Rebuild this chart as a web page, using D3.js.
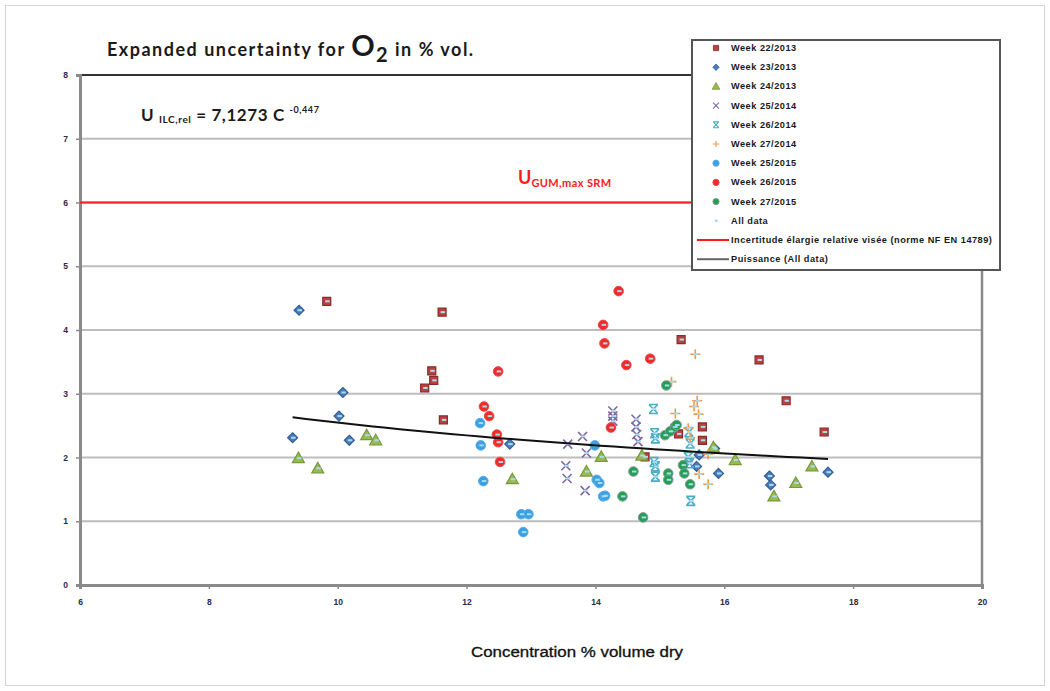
<!DOCTYPE html>
<html><head><meta charset="utf-8">
<script src="https://cdn.jsdelivr.net/npm/d3@7"></script>
<style>body{margin:0;background:#fff} svg{display:block}</style>
</head><body><svg id="c" width="1050" height="691"></svg>
<script>
// Axis ticks
const xTicks = [6, 8, 10, 12, 14, 16, 18, 20];
const yTicks = [0, 1, 2, 3, 4, 5, 6, 7, 8];

// Measurement campaigns: [concentration % vol dry, expanded uncertainty]
const week22_2013 = [[9.83,4.45],[11.62,4.28],[11.46,3.36],[11.49,3.21],[11.35,3.09],[11.64,2.59],[14.77,2.01],[15.33,3.85],[16.54,3.53],[16.96,2.89],[17.55,2.40],[15.66,2.48],[15.66,2.27],[15.29,2.37]];
const week23_2013 = [[9.40,4.31],[10.08,3.02],[10.02,2.65],[9.30,2.31],[10.18,2.27],[12.67,2.21],[15.85,2.14],[15.61,2.04],[15.91,1.75],[15.57,1.86],[16.70,1.71],[16.72,1.57],[17.61,1.77]];
const week24_2013 = [[9.39,1.99],[9.69,1.83],[10.45,2.35],[10.59,2.27],[12.71,1.66],[14.09,2.01],[13.86,1.78],[14.72,2.03],[15.83,2.16],[16.17,1.96],[17.36,1.86],[17.11,1.60],[16.77,1.39]];
const week25_2014 = [[13.80,2.33],[13.57,2.21],[13.86,2.07],[13.54,1.87],[13.56,1.67],[13.84,1.48],[14.27,2.73],[14.27,2.65],[14.27,2.57],[14.63,2.60],[14.63,2.48],[14.64,2.36],[14.66,2.25]];
const week26_2014 = [[14.90,2.76],[14.92,2.38],[14.93,2.30],[14.91,1.93],[14.93,1.86],[14.93,1.70],[15.47,2.22],[15.44,2.01],[15.46,1.91],[15.48,1.32],[15.45,2.40]];
const week27_2014 = [[15.18,3.19],[15.55,3.62],[15.58,2.89],[15.53,2.80],[15.60,2.68],[15.24,2.69],[15.44,2.46],[15.47,2.31],[15.75,2.05],[15.61,1.74],[15.75,1.58]];
const week25_2015 = [[12.21,2.54],[12.22,2.19],[12.26,1.63],[13.99,2.19],[14.02,1.65],[14.06,1.60],[14.12,1.39],[14.15,1.40],[12.85,1.11],[12.96,1.11],[12.88,0.83]];
const week26_2015 = [[12.49,3.35],[12.27,2.80],[12.35,2.65],[12.47,2.36],[12.49,2.24],[12.52,1.93],[14.36,4.61],[14.12,4.08],[14.14,3.79],[14.48,3.45],[14.85,3.55],[14.24,2.47]];
const week27_2015 = [[15.10,3.13],[15.08,2.35],[15.16,2.41],[15.23,2.48],[15.26,2.51],[14.59,1.78],[14.42,1.39],[14.74,1.06],[15.13,1.75],[15.13,1.65],[15.36,1.88],[15.38,1.75],[15.47,1.58]];

// Target relative expanded uncertainty and power-law fit of all data
const targetU = 6;
const powerCoef = 7.1273;
const powerExp = -0.447;

const series = [
  {name: "Week 22/2013", data: week22_2013, shape: "square",   fill: "#b8423f", stroke: "#8a2a28"},
  {name: "Week 23/2013", data: week23_2013, shape: "diamond",  fill: "#4a7ebb", stroke: "#355f95"},
  {name: "Week 24/2013", data: week24_2013, shape: "triangle", fill: "#98b954", stroke: "#789a38"},
  {name: "Week 25/2014", data: week25_2014, shape: "x",        fill: "none",    stroke: "#8064a2"},
  {name: "Week 26/2014", data: week26_2014, shape: "star",     fill: "none",    stroke: "#4bacc6"},
  {name: "Week 27/2014", data: week27_2014, shape: "plus",     fill: "none",    stroke: "#f79646"},
  {name: "Week 25/2015", data: week25_2015, shape: "circle",   fill: "#3a9fe3", stroke: "#5aaee8"},
  {name: "Week 26/2015", data: week26_2015, shape: "circle",   fill: "#f42a2a", stroke: "#e84a4a"},
  {name: "Week 27/2015", data: week27_2015, shape: "circle",   fill: "#20a050", stroke: "#8a9a9a"}
];

const svg = d3.select("#c");
const x = d3.scaleLinear().domain([6, 20]).range([80, 982]);
const y = d3.scaleLinear().domain([0, 8]).range([585, 75]);

// Outer chart frame
svg.append("rect").attr("x", 5.5).attr("y", 5.5).attr("width", 1039).attr("height", 680)
  .attr("fill", "#fff").attr("stroke", "#d4d4d4");

// Horizontal gridlines
svg.append("g").selectAll("line").data(yTicks.filter(t => t > 0 && t < 8)).join("line")
  .attr("x1", x(6)).attr("x2", x(20)).attr("y1", d => y(d)).attr("y2", d => y(d))
  .attr("stroke", "#bdbdbd").attr("stroke-width", 2);

// Plot border
svg.append("line").attr("x1", x(6)).attr("x2", x(20)).attr("y1", y(8)).attr("y2", y(8))
  .attr("stroke", "#333").attr("stroke-width", 2);
svg.append("line").attr("x1", x(20)).attr("x2", x(20)).attr("y1", y(8)).attr("y2", y(0))
  .attr("stroke", "#8a8a8a").attr("stroke-width", 2.5);

// Axes
const yAxis = d3.axisLeft(y).tickValues(yTicks).tickSize(4).tickPadding(8).tickFormat(d3.format("d"));
const xAxis = d3.axisBottom(x).tickValues(xTicks).tickSize(4).tickPadding(10).tickFormat(d3.format("d"));
const gy = svg.append("g").attr("transform", `translate(${x(6)},0)`).call(yAxis);
const gx = svg.append("g").attr("transform", `translate(0,${y(0)})`).call(xAxis);
[gy, gx].forEach(g => {
  g.select(".domain").attr("stroke", "#8a8a8a").attr("stroke-width", 3);
  g.selectAll(".tick line").attr("stroke", "#8a8a8a").attr("stroke-width", 1.5);
  g.selectAll(".tick text").attr("font-family", "Liberation Sans Narrow, Liberation Sans, sans-serif")
    .attr("font-size", 8.5).attr("font-weight", "bold").attr("fill", "#2a2a4a");
});

// Target line
svg.append("line").attr("x1", x(6)).attr("x2", x(20)).attr("y1", y(targetU)).attr("y2", y(targetU))
  .attr("stroke", "#ff1a1a").attr("stroke-width", 2);

// Marker shapes
function markerPath(shape) {
  switch (shape) {
    case "square": return "M-4,-4H4V4H-4Z";
    case "diamond": return "M0,-5L5,0L0,5L-5,0Z";
    case "triangle": return "M0,-6L6,4.5H-6Z";
    case "x": return "M-4.5,-4.5L4.5,4.5M-4.5,4.5L4.5,-4.5";
    case "star": return "M-4,-4L4,4M-4,4L4,-4M-4.5,-4.5H4.5M-4.5,4.5H4.5";
    case "plus": return "M-5,0H5M0,-5V5";
  }
}
function drawMarker(g, s, scale) {
  if (s.shape === "circle") {
    g.append("circle").attr("r", 4.8 * scale).attr("fill", s.fill).attr("stroke", s.stroke).attr("stroke-width", 1);
  } else {
    const open = s.fill === "none";
    g.append("path").attr("d", markerPath(s.shape)).attr("transform", `scale(${scale})`)
      .attr("fill", s.fill).attr("stroke", s.stroke)
      .attr("stroke-width", open ? 1.6 : 1.2);
  }
}

// Power fit line over the range of all data
const allData = series.flatMap(s => s.data);
const [xmin, xmax] = d3.extent(allData, d => d[0]);
const fitPts = d3.range(0, 41).map(i => {
  const c = xmin + (xmax - xmin) * i / 40;
  return [c, powerCoef * Math.pow(c, powerExp)];
});

// Data points
const pts = svg.append("g");
series.forEach(s => {
  s.data.forEach(d => {
    const g = pts.append("g").attr("transform", `translate(${x(d[0])},${y(d[1])})`);
    drawMarker(g, s, 1);
  });
});
// "All data" series overlay
pts.append("g").selectAll("rect").data(allData).join("rect")
  .attr("x", d => x(d[0]) - 1.5).attr("y", d => y(d[1]) - 1)
  .attr("width", 4.5).attr("height", 2).attr("fill", "#a6dcef");

svg.append("path").datum(fitPts)
  .attr("d", d3.line().x(d => x(d[0])).y(d => y(d[1])))
  .attr("fill", "none").attr("stroke", "#111").attr("stroke-width", 2);

// Title
const title = svg.append("text").attr("x", 107).attr("y", 56)
  .attr("font-family", "Lato, Open Sans, sans-serif").attr("font-weight", "bold")
  .attr("letter-spacing", 1.5).attr("fill", "#1a1a1a");
title.append("tspan").attr("font-size", 18).text("Expanded uncertainty for ");
title.append("tspan").attr("font-size", 29).text("O");
title.append("tspan").attr("font-size", 20).attr("dy", 6).text("2");
title.append("tspan").attr("font-size", 18).attr("dy", -6).text(" in % vol.");

// Fit equation
const eq = svg.append("text").attr("x", 141).attr("y", 121)
  .attr("font-family", "Lato, Open Sans, sans-serif").attr("font-weight", "bold")
  .attr("letter-spacing", 0.6).attr("fill", "#1a1a1a");
eq.append("tspan").attr("font-size", 17).text("U ");
eq.append("tspan").attr("font-size", 10).attr("dy", 2).text("ILC,rel");
eq.append("tspan").attr("font-size", 17).attr("dy", -2).text(" = 7,1273 C ");
eq.append("tspan").attr("font-size", 9).attr("dy", -8).text("-0,447");

// Target label
const tl = svg.append("text").attr("x", 518).attr("y", 184)
  .attr("font-family", "Lato, Open Sans, sans-serif").attr("font-weight", "bold").attr("fill", "#ff1a1a");
tl.append("tspan").attr("font-size", 18).text("U");
tl.append("tspan").attr("font-size", 11).attr("letter-spacing", 0.4).attr("dy", 3).text("GUM,max SRM");

// X axis title
svg.append("text").attr("x", 577).attr("y", 657).attr("text-anchor", "middle")
  .attr("font-family", "Liberation Sans, sans-serif")
  .attr("font-size", 14).attr("textLength", 212).attr("lengthAdjust", "spacingAndGlyphs")
  .attr("fill", "#111").attr("stroke", "#111").attr("stroke-width", 0.3)
  .text("Concentration % volume dry");

// Legend
const lg = svg.append("g");
lg.append("rect").attr("x", 692).attr("y", 40).attr("width", 308).attr("height", 230)
  .attr("fill", "#fff").attr("stroke", "#555").attr("stroke-width", 2);
const legendItems = series.map(s => ({...s, kind: "marker"}))
  .concat([{name: "All data", kind: "dash"},
           {name: "Incertitude élargie relative visée (norme NF EN 14789)", kind: "line", color: "#ff1a1a"},
           {name: "Puissance (All data)", kind: "line", color: "#666"}]);
legendItems.forEach((it, i) => {
  const cy = 48 + i * 19.2;
  const g = lg.append("g").attr("transform", `translate(716,${cy})`);
  if (it.kind === "marker") drawMarker(g, it, 0.65);
  else if (it.kind === "dash") g.append("rect").attr("x", -1).attr("y", -1).attr("width", 2.5).attr("height", 2).attr("fill", "#8fd0ea");
  else g.append("line").attr("x1", -19).attr("x2", 13).attr("stroke", it.color).attr("stroke-width", 2);
  lg.append("text").attr("x", 731).attr("y", cy + 3)
    .attr("font-family", "Liberation Sans, sans-serif").attr("font-size", 9.2)
    .attr("font-weight", "bold").attr("letter-spacing", 0.5)
    .attr("fill", "#1a1a1a").text(it.name);
});
</script></body></html>
